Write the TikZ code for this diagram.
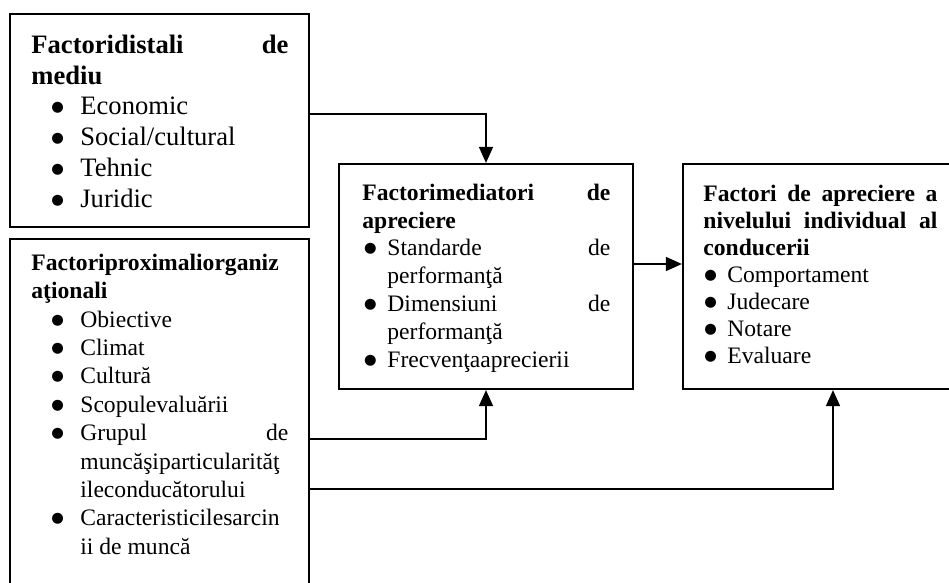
\documentclass[tikz,border=0pt]{standalone}
\usepackage{fontspec}
\setmainfont{Liberation Serif}
\newfontfamily\dotfont{DejaVu Sans}
\usetikzlibrary{arrows.meta,fit}
% solid list bullet
\newcommand\bigdot{\raisebox{1.5pt}{\dotfont\fontsize{7.2}{0}\selectfont ●}}
\newcommand\bulA[1]{\hspace*{10pt}\makebox[14.5pt][l]{\bigdot}#1}
\newcommand\contA[1]{\hspace*{24.5pt}#1}
\newcommand\bulB[1]{\hspace*{0.8pt}\makebox[11.7pt][l]{\bigdot}#1}
\newcommand\contB[1]{\hspace*{12.5pt}#1}
\newcommand\bulC[1]{\hspace*{0.5pt}\makebox[11.5pt][l]{\bigdot}#1}
\begin{document}
\begin{tikzpicture}[x=0.5pt,y=-0.5pt,
  box/.style={draw,line width=1.1pt,inner sep=0pt,rectangle},
  conn/.style={line width=0.75pt,-{Triangle[length=8pt,width=7pt]}},
  txt/.style={anchor=north west,inner sep=0pt,align=flush left},
]
\useasboundingbox (0,0) rectangle (949,583);
\fill[white] (0,0) rectangle (949,583);

% boxes
\node[box,fit={(10,14)(309,227)}] (b1) {};
\node[box,fit={(10,239)(309,600)}] (b2) {};
\node[box,fit={(339,164)(633,389)}] (b3) {};
\node[box,fit={(683,164)(952,389)}] (b4) {};

% box texts
\node[txt,text width=128.5pt,font={\fontsize{13.3}{15.4}\selectfont\parindent=0pt}] (t1) at (31,31.4)
 {\strut\textbf{Factoridistali\hfill de}\\
  \textbf{mediu}\\
  \bulA{Economic}\\
  \bulA{Social/cultural}\\
  \bulA{Tehnic}\\
  \bulA{Juridic}};

\node[txt,text width=128.5pt,font={\fontsize{11.8}{14.2}\selectfont\parindent=0pt}] (t2) at (31,250.1)
 {\strut\textbf{Factoriproximaliorganiz}\\
  \textbf{aţionali}\\
  \bulA{Obiective}\\
  \bulA{Climat}\\
  \bulA{Cultură}\\
  \bulA{Scopulevaluării}\\
  \bulA{Grupul\hfill de}\\
  \contA{muncăşiparticularităţ}\\
  \contA{ileconducătorului}\\
  \bulA{Caracteristicilesarcin}\\
  \contA{ii de muncă}};

\node[txt,text width=124pt,font={\fontsize{11.8}{13.9}\selectfont\parindent=0pt}] (t3) at (362,180.5)
 {\strut\textbf{Factorimediatori\hfill de}\\
  \textbf{apreciere}\\
  \bulB{Standarde\hfill de}\\
  \contB{performanţă}\\
  \bulB{Dimensiuni\hfill de}\\
  \contB{performanţă}\\
  \bulB{Frecvenţaaprecierii}};

\node[txt,text width=117pt,font={\fontsize{11.8}{13.5}\selectfont\parindent=0pt}] (t4) at (703,182)
 {\strut\textbf{Factori\hfill de\hfill apreciere\hfill a}\\
  \textbf{nivelului\hfill individual\hfill al}\\
  \textbf{conducerii}\\
  \bulC{Comportament}\\
  \bulC{Judecare}\\
  \bulC{Notare}\\
  \bulC{Evaluare}};

% connector bends
\coordinate (j1) at (0,114);
\coordinate (j2) at (0,264);
\coordinate (j3) at (0,439);
\coordinate (j4) at (833,489);

\draw[conn] (b1.east |- j1) -| (b3.north);
\draw[conn] (b3.east |- j2) -- (b4.west |- j2);
\draw[conn] (b2.east |- j3) -| (b3.south);
\draw[conn] (b2.east |- j4) -| (j4 |- b4.south);
\end{tikzpicture}
\end{document}
